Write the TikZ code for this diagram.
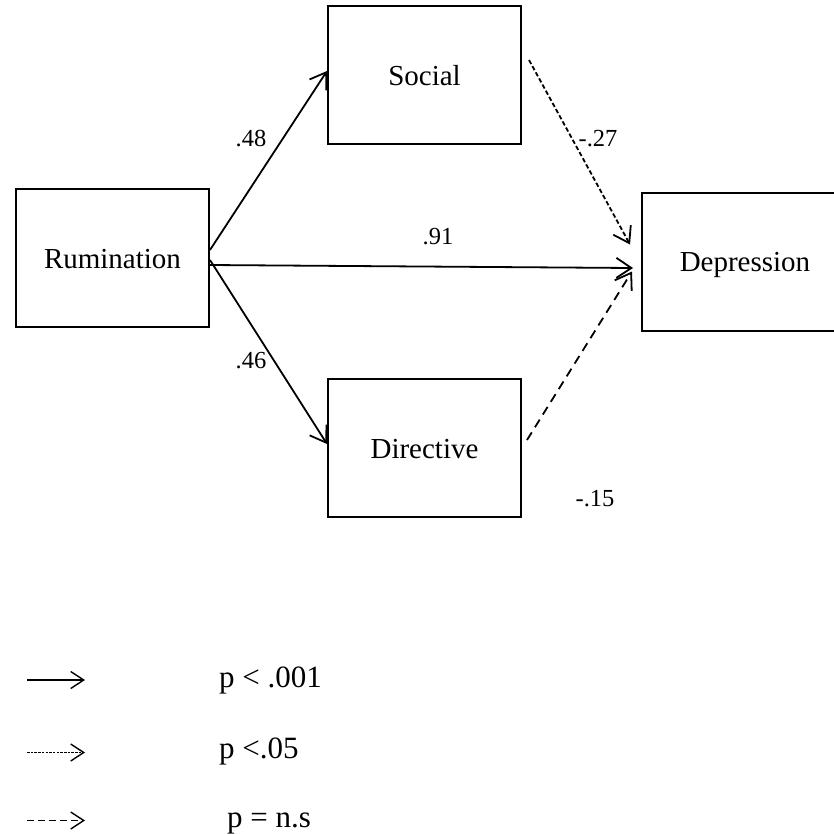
\documentclass[tikz,border=0pt]{standalone}
\usepackage{fontspec}
\setmainfont{Liberation Serif}
\usetikzlibrary{arrows.meta, positioning}
\tikzset{
  construct/.style={rectangle, draw, line width=2pt, fill=white, minimum width=193pt,
    minimum height=138pt, inner sep=0pt, align=center, font=\fontsize{29}{35}\selectfont,
    text height=20pt, text depth=0pt},
  coef/.style={inner sep=0pt, font=\fontsize{24.5}{29}\selectfont},
  keytext/.style={inner sep=0pt, anchor=base west, font=\fontsize{31}{37}\selectfont},
  barb/.style={-{Straight Barb[length=15pt, width=20pt]}},
  keybarb/.style={-{Straight Barb[length=13pt, width=17pt]}},
  sigarr/.style={barb, line width=1.8pt},
  weakarr/.style={barb, line width=1.8pt, dash pattern=on 4.5pt off 2.5pt},
  nsarr/.style={barb, line width=1.8pt, dash pattern=on 9pt off 6pt},
  keysig/.style={keybarb, line width=1.4pt},
  keyweak/.style={keybarb, line width=1.4pt, dash pattern=on 2.5pt off 1.2pt},
  keyns/.style={keybarb, line width=1.4pt, dash pattern=on 7pt off 4pt},
}
\begin{document}
\begin{tikzpicture}[x=1pt, y=-1pt]
  \useasboundingbox (0,0) rectangle (834,833);

  \node[construct] (rum) at (112.5,258) {Rumination};
  \node[construct, above right=43pt and 117pt of rum] (soc) {Social};
  \node[construct, below right=50pt and 117pt of rum] (dir) {Directive};
  \node[construct, minimum width=206pt, right=431pt of rum, yshift=-3.5pt] (dep) {Depression};

  \draw[sigarr] ([yshift=8pt]rum.east) -- ([yshift=4pt]soc.west);
  \draw[sigarr] ([yshift=-2pt]rum.east) -- ([yshift=4pt]dir.west);
  \draw[sigarr] ([yshift=-7pt]rum.east) -- ([xshift=-8pt, yshift=-6.5pt]dep.west);
  \draw[weakarr] ([shift={(7pt,15pt)}]soc.east) -- ([shift={(-11pt,17pt)}]dep.west);
  \draw[nsarr] ([shift={(5pt,8pt)}]dir.east) -- ([shift={(-9pt,-10pt)}]dep.west);

  \node[coef] (c48) at (251,139) {.48};
  \node[coef] (c46) at (251,361) {.46};
  \node[coef] (c27) at (598,139) {-.27};
  \node[coef] (c91) at (438,237) {.91};
  \node[coef] (c15) at (595,499) {-.15};

  % key
  \coordinate (k1a) at (27,680);
  \coordinate (k1b) at (85,680);
  \coordinate (k2a) at (27,752.5);
  \coordinate (k2b) at (85,752.5);
  \coordinate (k3a) at (27,820.5);
  \coordinate (k3b) at (85,820.5);
  \draw[keysig] (k1a) -- (k1b);
  \draw[keyweak] (k2a) -- (k2b);
  \draw[keyns] (k3a) -- (k3b);
  \node[keytext] (t1) at (219,687) {p < .001};
  \node[keytext] (t2) at (219,758) {p <.05};
  \node[keytext] (t3) at (227,827) {p = n.s};
\end{tikzpicture}
\end{document}
